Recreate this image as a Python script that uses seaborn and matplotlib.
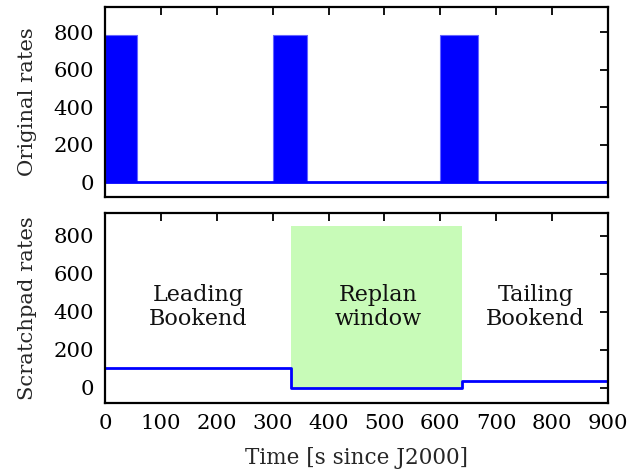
import numpy as np
import pandas as pd
import seaborn as sns
import matplotlib
matplotlib.use("Agg")
import matplotlib.pyplot as plt

# --- data ---
orig_block_starts = [0, 300, 600]
orig_block_ends = [57, 362, 668]
orig_block_height = 785
orig_t = [0, 900]
orig_r = [0, 0]

scratch_t = [0, 332, 332, 638, 638, 900]
scratch_r = [103, 103, 0, 0, 36, 36]

replan_start, replan_end, replan_top = 332, 638, 850
labels = ["Leading\nBookend", "Replan\nwindow", "Tailing\nBookend"]
label_x = [166, 488, 770]
label_y = 425

xticks = [0, 100, 200, 300, 400, 500, 600, 700, 800, 900]
yticks = [0, 200, 400, 600, 800]

sns.set_theme(style="white")
plt.rcParams['font.family'] = ['DejaVu Serif']
plt.rcParams['mathtext.fontset'] = 'dejavuserif'

fig, (ax1, ax2) = plt.subplots(2, 1, figsize=(6.42, 4.74), dpi=100, sharex=True)
fig.subplots_adjust(left=0.1636, right=0.947, top=0.985, bottom=0.150, hspace=0.084)

blue = "#0000ff"

# top panel
for s, e in zip(orig_block_starts, orig_block_ends):
    ax1.fill_between([s, e], 0, orig_block_height, color=blue, lw=0.8, edgecolor="#6666ff")
df1 = pd.DataFrame({"t": orig_t, "r": orig_r})
sns.lineplot(data=df1, x="t", y="r", ax=ax1, color=blue, lw=2, estimator=None, sort=False)

# bottom panel
ax2.fill_between([replan_start, replan_end], 0, replan_top, color="#c8fbb8", lw=0)
df2 = pd.DataFrame({"t": scratch_t, "r": scratch_r})
sns.lineplot(data=df2, x="t", y="r", ax=ax2, color=blue, lw=2, estimator=None, sort=False)
for lx, lab in zip(label_x, labels):
    ax2.text(lx, label_y, lab, ha="center", va="center", fontsize=16,
             linespacing=1.15, color="#111111")

for ax in (ax1, ax2):
    ax.set_xlim(0, 900)
    ax.set_yticks(yticks)
    ax.set_xticks(xticks)
    ax.tick_params(direction="in", top=True, right=True, length=6, width=1.3,
                   labelsize=15.3, colors="black", pad=8)
    for sp in ax.spines.values():
        sp.set_linewidth(1.6)
        sp.set_color("black")
    ax.set_xlabel("")

ax1.set_ylim(-80, 935)
ax2.set_ylim(-80, 920)
ax1.set_ylabel("Original rates", fontsize=15.2, labelpad=12)
ax2.set_ylabel("Scratchpad rates", fontsize=15.2, labelpad=12)
ax2.set_xlabel("Time [s since J2000]", fontsize=15.5, labelpad=10)
ax1.tick_params(labelbottom=False)

fig.savefig("out.png", dpi=100)
